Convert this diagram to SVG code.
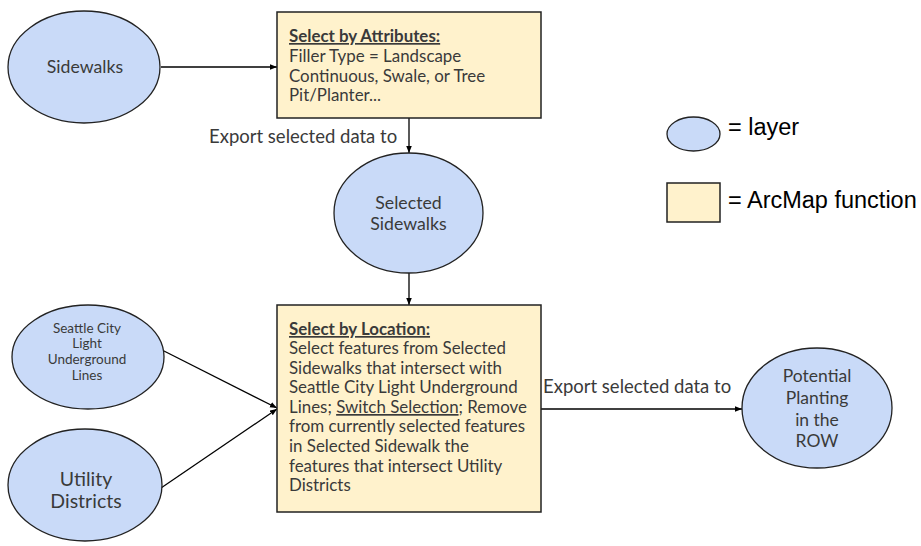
<svg xmlns="http://www.w3.org/2000/svg" width="921" height="546" viewBox="0 0 921 546">
<defs>
<marker id="arr" viewBox="0 0 10 10" refX="10" refY="5" markerWidth="7" markerHeight="7" markerUnits="userSpaceOnUse" orient="auto">
<path d="M0,1 L10,5 L0,9 z" fill="#000"/>
</marker>
<style>
.layer{fill:#c9daf8;stroke:#222;stroke-width:1.3}
.func{fill:#fff2cc;stroke:#222;stroke-width:1.5}
.t{font-family:Lato,"Open Sans","Liberation Sans",sans-serif;fill:#3a3a3a}
.c{text-anchor:middle}
.conn{stroke:#000;stroke-width:1.3;fill:none;marker-end:url(#arr)}
.leg{font-family:"Liberation Sans",Arial,sans-serif;fill:#000;font-size:23.5px}
.u{text-decoration:underline}
</style>
</defs>
<rect width="921" height="546" fill="#fff"/>
<g id="connectors">
<line class="conn" x1="161" y1="67" x2="277" y2="67"/>
<line class="conn" x1="409" y1="118" x2="409" y2="153"/>
<line class="conn" x1="409" y1="273" x2="409" y2="305"/>
<line class="conn" x1="162" y1="350" x2="277" y2="408"/>
<line class="conn" x1="161" y1="488" x2="277" y2="409"/>
<line class="conn" x1="541" y1="409" x2="742" y2="409"/>
<text class="t" x="209" y="143" font-size="18.5">Export selected data to</text>
<text class="t" x="543" y="393" font-size="18.5">Export selected data to</text>
</g>
<g id="sidewalks">
<ellipse class="layer" cx="84" cy="67" rx="76" ry="56"/>
<text class="t c" x="85" y="73" font-size="17.7">Sidewalks</text>
</g>
<g id="select-by-attributes">
<rect class="func" x="277" y="12" width="264" height="106"/>
<text class="t" font-size="16.9">
<tspan x="289" y="42" font-weight="bold" class="u">Select by Attributes:</tspan>
<tspan x="289" y="62">Filler Type = Landscape</tspan>
<tspan x="289" y="82">Continuous, Swale, or Tree</tspan>
<tspan x="289" y="101">Pit/Planter...</tspan>
</text>
</g>
<g id="selected-sidewalks">
<ellipse class="layer" cx="408.5" cy="213" rx="74.5" ry="60"/>
<text class="t c" font-size="17.7"><tspan x="408.5" y="209">Selected</tspan><tspan x="408.5" y="230">Sidewalks</tspan></text>
</g>
<g id="seattle-city-light">
<ellipse class="layer" cx="88" cy="357" rx="76" ry="52"/>
<text class="t c" font-size="13.5"><tspan x="87" y="333">Seattle City</tspan><tspan x="87" y="348">Light</tspan><tspan x="87" y="364">Underground</tspan><tspan x="87" y="380">Lines</tspan></text>
</g>
<g id="utility-districts">
<ellipse class="layer" cx="85" cy="485" rx="77" ry="56"/>
<text class="t c" font-size="19.5"><tspan x="86" y="486">Utility</tspan><tspan x="86" y="508">Districts</tspan></text>
</g>
<g id="select-by-location">
<rect class="func" x="277" y="305" width="264" height="207"/>
<text class="t" font-size="16.9">
<tspan x="289" y="335" font-weight="bold" class="u">Select by Location:</tspan>
<tspan x="289" y="354">Select features from Selected</tspan>
<tspan x="289" y="374">Sidewalks that intersect with</tspan>
<tspan x="289" y="393">Seattle City Light Underground</tspan>
<tspan x="289" y="413">Lines; <tspan class="u">Switch Selection</tspan>; Remove</tspan>
<tspan x="289" y="432">from currently selected features</tspan>
<tspan x="289" y="452">in Selected Sidewalk the</tspan>
<tspan x="289" y="472">features that intersect Utility</tspan>
<tspan x="289" y="491">Districts</tspan>
</text>
</g>
<g id="potential-planting">
<ellipse class="layer" cx="817" cy="408" rx="75" ry="60"/>
<text class="t c" font-size="17.5"><tspan x="817" y="382">Potential</tspan><tspan x="817" y="404">Planting</tspan><tspan x="817" y="426">in the</tspan><tspan x="817" y="447">ROW</tspan></text>
</g>
<g id="legend">
<ellipse class="layer" cx="693.5" cy="134" rx="26.5" ry="17"/>
<text class="leg" x="728" y="135">= layer</text>
<rect class="func" x="667" y="183" width="53" height="39"/>
<text class="leg" x="728" y="208">= ArcMap function</text>
</g>
</svg>
